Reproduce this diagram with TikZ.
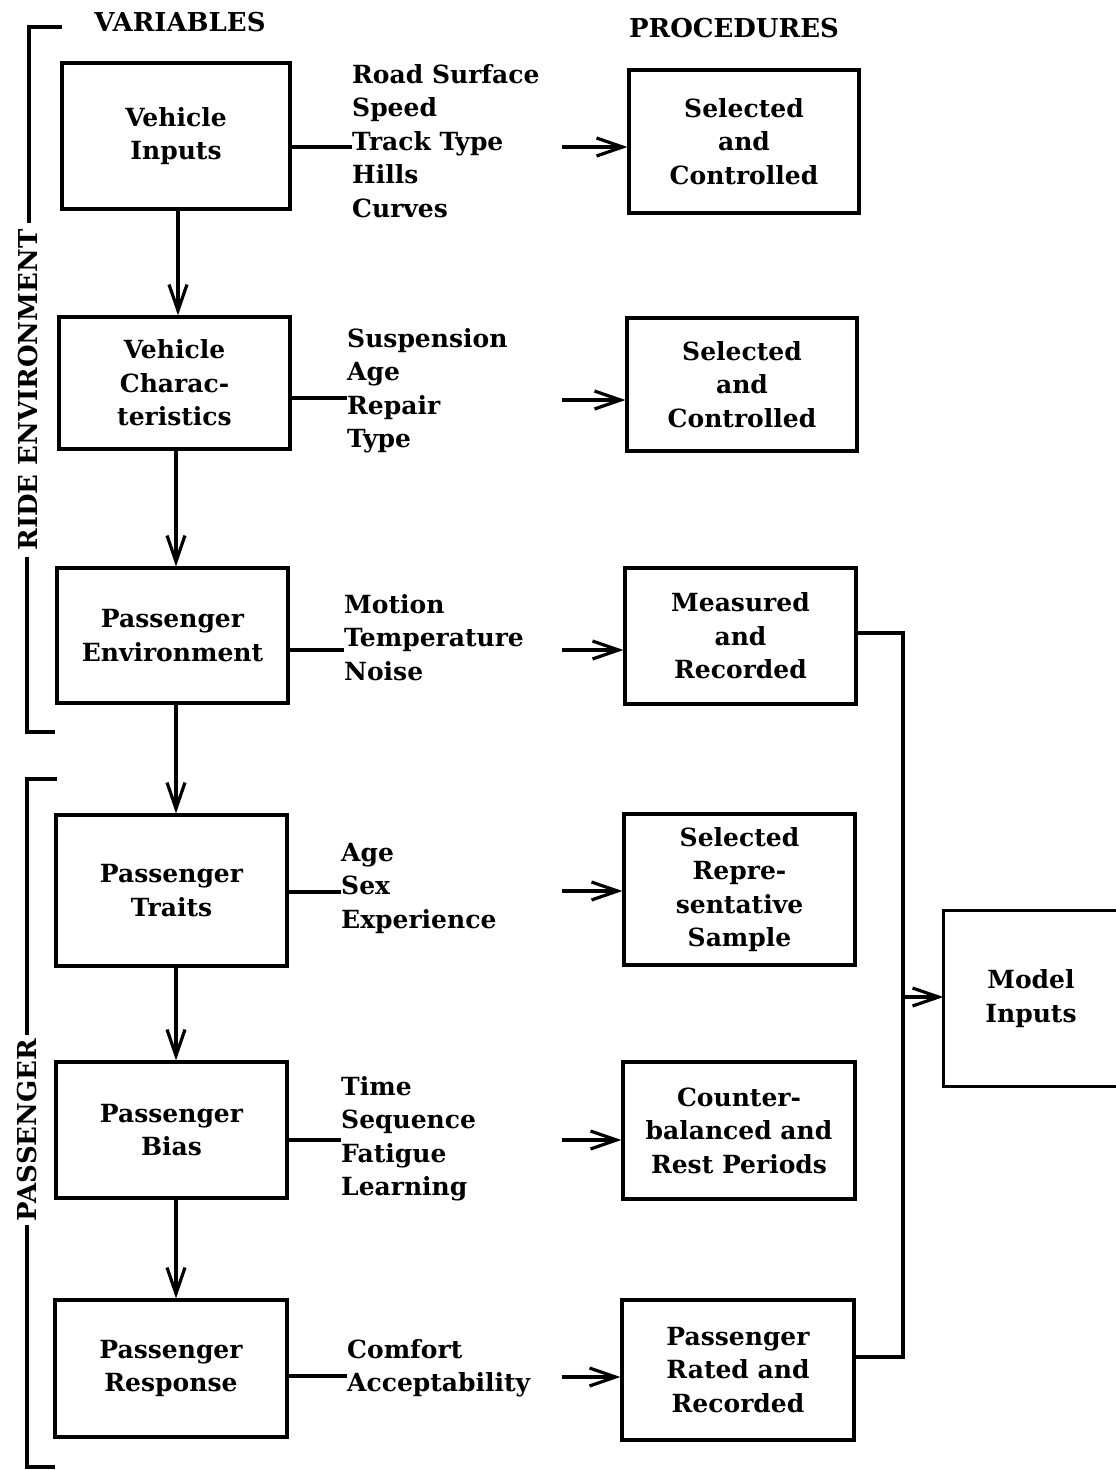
\documentclass[tikz,border=0pt]{standalone}
\usepackage{fontspec}
\setmainfont{DejaVu Serif}
\usetikzlibrary{arrows.meta}
\begin{document}
\begin{tikzpicture}[x=1pt,y=-1pt,
  ln/.style={line width=3.2pt},
  arr/.style={line width=3.2pt,-{Straight Barb[length=26pt,width=18pt,line width=3.2pt]}},
  box/.style={draw,line width=3.2pt,inner sep=0pt,align=center,font=\fontsize{25}{33.5}\selectfont\bfseries},
  lst/.style={inner sep=0pt,align=left,anchor=north west,font=\fontsize{25}{33.5}\selectfont\bfseries},
  hdr/.style={inner sep=0pt,font=\fontsize{26}{30}\selectfont\bfseries}]
\useasboundingbox[fill=white] (0,0) rectangle (1116,1470);
% headers
\node[hdr] (hv) at (180,22) {VARIABLES};
\node[hdr] (hp) at (734,28) {PROCEDURES};
% left boxes
\node[box,minimum width=228pt,minimum height=146pt] (L1) at (176,136) {Vehicle\\Inputs};
\node[box,minimum width=231pt,minimum height=132pt] (L2) at (174.5,383) {Vehicle\\Charac-\\teristics};
\node[box,minimum width=231pt,minimum height=135pt] (L3) at (172.5,635.5) {Passenger\\Environment};
\node[box,minimum width=231pt,minimum height=151pt] (L4) at (171.5,890.5) {Passenger\\Traits};
\node[box,minimum width=231pt,minimum height=136pt] (L5) at (171.5,1130) {Passenger\\Bias};
\node[box,minimum width=232pt,minimum height=137pt] (L6) at (171,1368.5) {Passenger\\Response};
% right boxes
\node[box,minimum width=230pt,minimum height=143pt] (R1) at (744,141.5) {Selected\\and\\Controlled};
\node[box,minimum width=230pt,minimum height=133pt] (R2) at (742,384.5) {Selected\\and\\Controlled};
\node[box,minimum width=231pt,minimum height=136pt] (R3) at (740.5,636) {Measured\\and\\Recorded};
\node[box,minimum width=231pt,minimum height=151pt] (R4) at (739.5,889.5) {Selected\\Repre-\\sentative\\Sample};
\node[box,minimum width=232pt,minimum height=137pt] (R5) at (739,1130.5) {Counter-\\balanced and\\Rest Periods};
\node[box,minimum width=232pt,minimum height=140pt] (R6) at (738,1370) {Passenger\\Rated and\\Recorded};
% model inputs
\node[box,draw=none,minimum width=172pt,minimum height=173pt] (M) at (1031,998.5) {Model\\Inputs};
\draw[ln] ([xshift=20pt]M.north east) -- (M.north west) -- (M.south west) -- ([xshift=20pt]M.south east);
% lists
\node[lst] (T1) at (352,64) {Road Surface\\Speed\\Track Type\\Hills\\Curves};
\node[lst] (T2) at (347,328) {Suspension\\Age\\Repair\\Type};
\node[lst] (T3) at (344,594) {Motion\\Temperature\\Noise};
\node[lst] (T4) at (341,843) {Age\\Sex\\Experience};
\node[lst] (T5) at (341,1076) {Time\\Sequence\\Fatigue\\Learning};
\node[lst] (T6) at (347,1339) {Comfort\\Acceptability};
% box-to-list lines
\draw[ln] (L1.east |- 0,147) -- (T1.west |- 0,147);
\draw[ln] (L2.east |- 0,398) -- (T2.west |- 0,398);
\draw[ln] (L3.east |- 0,650) -- (T3.west |- 0,650);
\draw[ln] (L4.east |- 0,892) -- (T4.west |- 0,892);
\draw[ln] (L5.east |- 0,1140) -- (T5.west |- 0,1140);
\draw[ln] (L6.east |- 0,1376) -- (T6.west |- 0,1376);
% arrows to procedures
\coordinate (a1) at (562,147);
\coordinate (a2) at (562,400);
\coordinate (a3) at (562,650);
\coordinate (a4) at (562,891);
\coordinate (a5) at (562,1140);
\coordinate (a6) at (562,1377);
\draw[arr] (a1) -- (a1 -| R1.west);
\draw[arr] (a2) -- (a2 -| R2.west);
\draw[arr] (a3) -- (a3 -| R3.west);
\draw[arr] (a4) -- (a4 -| R4.west);
\draw[arr] (a5) -- (a5 -| R5.west);
\draw[arr] (a6) -- (a6 -| R6.west);
% vertical arrows
\draw[arr] (L1.south -| 178,0) -- (L2.north -| 178,0);
\draw[arr] (L2.south -| 176,0) -- (L3.north -| 176,0);
\draw[arr] (L3.south -| 176,0) -- (L4.north -| 176,0);
\draw[arr] (L4.south -| 176,0) -- (L5.north -| 176,0);
\draw[arr] (L5.south -| 176,0) -- (L6.north -| 176,0);
% collector
\coordinate (c1) at (903,633);
\coordinate (c2) at (903,1357);
\coordinate (c3) at (903,997);
\draw[ln] (R3.east |- c1) -- (c1) -- (c2) -- (R6.east |- c2);
\draw[arr] (c3) -- (c3 -| M.west);
% brackets
\draw[ln] (62,27) -- (29,27) -- (29,223);
\draw[ln] (27,557) -- (27,732) -- (55,732);
\node[hdr,rotate=90] (ride) at (28,390) {RIDE ENVIRONMENT};
\draw[ln] (57,779) -- (27,779) -- (27,1035);
\draw[ln] (27,1225) -- (27,1467) -- (55,1467);
\node[hdr,rotate=90] (pass) at (27,1130) {PASSENGER};
\end{tikzpicture}
\end{document}
